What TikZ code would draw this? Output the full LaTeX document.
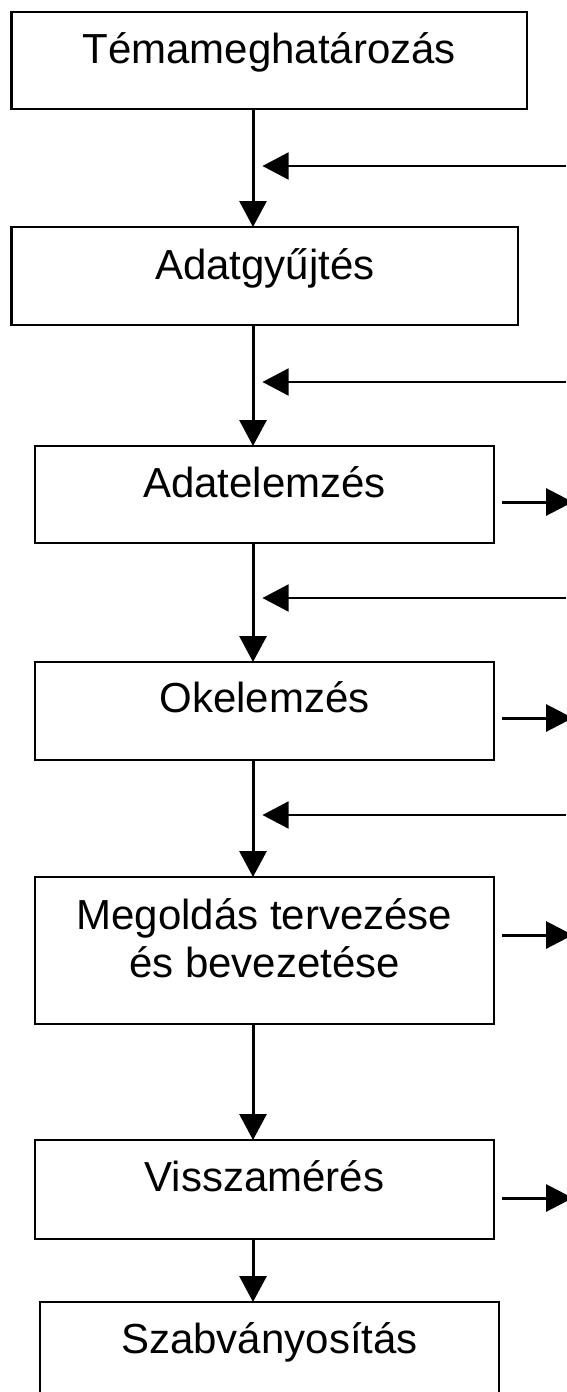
\documentclass[tikz,border=0pt]{standalone}
\usepackage{fontspec}
\setmainfont{Liberation Sans}
\usetikzlibrary{arrows.meta}
\begin{document}
\begin{tikzpicture}[x=1pt,y=-1pt,
  stepbox/.style={draw=black,line width=2.2pt,inner xsep=0pt,inner ysep=0pt,outer sep=0pt,
    anchor=north west,align=center,font=\fontsize{42}{48}\selectfont},
  vline/.style={line width=3pt,-{Triangle[length=26pt,width=27pt]}},
  fbline/.style={line width=1.7pt,-{Triangle[length=26pt,width=27pt]}},
  outline/.style={line width=3pt,-{Triangle[length=27pt,width=27pt]}}]
\useasboundingbox (0,0) rectangle (566,1392);
\fill[white] (0,0) rectangle (566,1392);
\node[stepbox,minimum width=515.5pt,text height=51pt,text depth=46pt] (b1) at (11.5,12) {Témameghatározás};
\node[stepbox,minimum width=506.5pt,text height=52pt,text depth=46pt] (b2) at (11.5,227) {Adatgyűjtés};
\node[stepbox,minimum width=459pt,text height=51pt,text depth=46pt] (b3) at (35,446) {Adatelemzés};
\node[stepbox,minimum width=459pt,text height=50pt,text depth=48pt] (b4) at (35,662) {Okelemzés};
\node[stepbox,minimum width=459pt,text height=52pt,text depth=95pt] (b5) at (35,877)
  {\vtop{\halign{\hfil#\hfil\cr Megoldás tervezése\cr és bevezetése\cr}}};
\node[stepbox,minimum width=459pt,text height=51pt,text depth=48pt] (b6) at (35,1140) {Visszamérés};
\node[stepbox,minimum width=459pt,text height=51pt,text depth=70pt] (b7) at (40,1302) {Szabványosítás};
\coordinate (spine) at (253,0);
% main flow
\draw[vline] (b1.south -| spine) -- (b2.north -| spine);
\draw[vline] (b2.south -| spine) -- (b3.north -| spine);
\draw[vline] (b3.south -| spine) -- (b4.north -| spine);
\draw[vline] (b4.south -| spine) -- (b5.north -| spine);
\draw[vline] (b5.south -| spine) -- (b6.north -| spine);
\draw[vline] (b6.south -| spine) -- (b7.north -| spine);
% feedback arrows
\foreach \i/\y in {1/166,2/382,3/598,4/815}{
  \coordinate (fs\i) at (566,\y);
  \coordinate (fe\i) at (262.5,\y);
  \draw[fbline] (fs\i) -- (fe\i);
}
% outgoing arrows
\coordinate (o3) at (573,502);
\coordinate (o4) at (573,718);
\coordinate (o5) at (573,935);
\coordinate (o6) at (573,1198);
\draw[outline] ([xshift=8pt]b3.east |- o3) -- (o3);
\draw[outline] ([xshift=8pt]b4.east |- o4) -- (o4);
\draw[outline] ([xshift=8pt]b5.east |- o5) -- (o5);
\draw[outline] ([xshift=8pt]b6.east |- o6) -- (o6);
\end{tikzpicture}
\end{document}
